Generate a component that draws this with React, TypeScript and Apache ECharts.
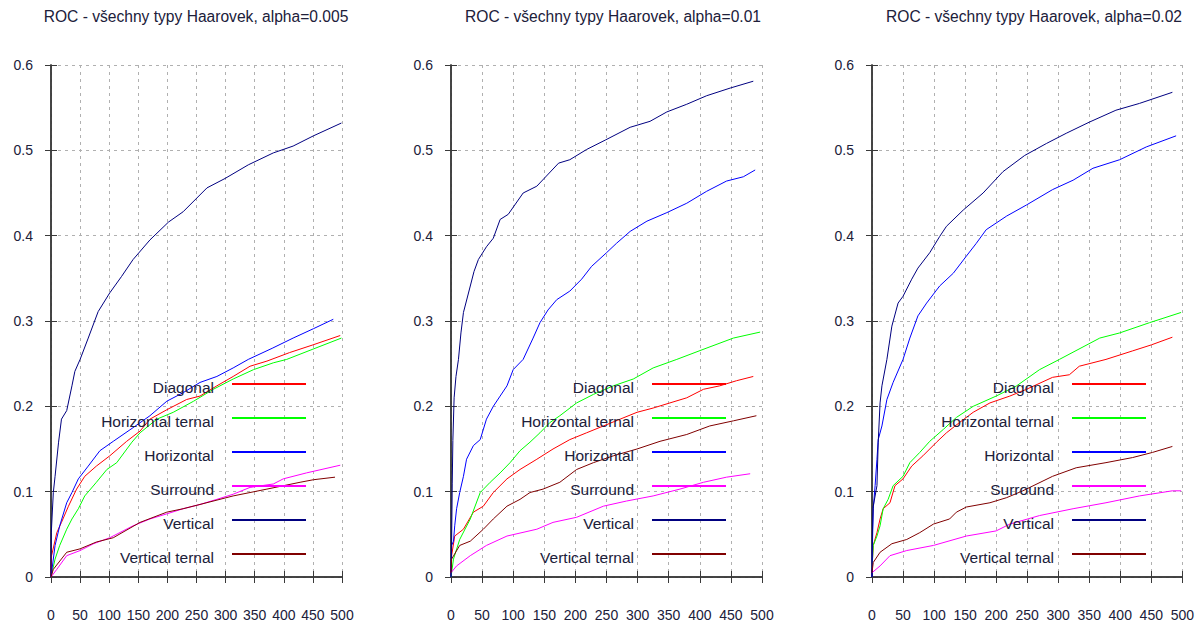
import React, { useEffect, useRef } from "react";
import * as echarts from "echarts";

const seriesNames = ["Diagonal", "Horizontal ternal", "Horizontal", "Surround", "Vertical", "Vertical ternal"];
const seriesColors = ["#ff0000", "#00ff00", "#0000ff", "#ff00ff", "#000080", "#800000"];
const panelTitles = [
  "ROC - všechny typy Haarovek, alpha=0.005",
  "ROC - všechny typy Haarovek, alpha=0.01",
  "ROC - všechny typy Haarovek, alpha=0.02",
];
const xMin = 0, xMax = 500, xStep = 50;
const yMin = 0, yMax = 0.6, yStep = 0.1;

// Panel 1 (alpha=0.005)
const p1Diagonal = [[0,0],[1,0.025],[10,0.052],[18,0.064],[30,0.083],[44,0.103],[58,0.118],[78,0.13],[101,0.142],[130,0.159],[153,0.171],[170,0.185],[199,0.196],[233,0.208],[256,0.212],[285,0.224],[313,0.235],[342,0.247],[371,0.253],[410,0.263],[450,0.272],[497,0.283]];
const p1HorizontalTernal = [[0,0],[7,0.021],[15,0.037],[27,0.056],[36,0.068],[47,0.08],[58,0.095],[78,0.111],[96,0.126],[113,0.134],[139,0.158],[153,0.169],[182,0.185],[210,0.193],[245,0.206],[279,0.22],[313,0.232],[348,0.243],[382,0.251],[405,0.255],[450,0.267],[499,0.28]];
const p1Horizontal = [[0,0],[7,0.037],[15,0.06],[27,0.087],[36,0.099],[47,0.115],[64,0.13],[84,0.148],[107,0.159],[141,0.175],[170,0.189],[199,0.206],[227,0.216],[256,0.228],[285,0.235],[313,0.245],[339,0.255],[380,0.268],[416,0.28],[451,0.291],[485,0.302]];
const p1Surround = [[0,0],[10,0.009],[27,0.025],[50,0.031],[73,0.039],[101,0.046],[141,0.06],[170,0.068],[199,0.074],[227,0.08],[256,0.085],[285,0.091],[313,0.097],[342,0.105],[382,0.109],[399,0.115],[439,0.122],[497,0.131]];
const p1Vertical = [[0,0],[0.5,0.052],[4,0.099],[7,0.118],[13,0.158],[18,0.185],[27,0.195],[36,0.224],[41,0.241],[50,0.255],[64,0.28],[81,0.311],[101,0.333],[121,0.352],[141,0.372],[170,0.395],[202,0.416],[227,0.428],[268,0.456],[299,0.467],[339,0.483],[382,0.497],[416,0.505],[451,0.517],[499,0.532]];
const p1VerticalTernal = [[0,0],[4,0.009],[27,0.029],[50,0.033],[78,0.041],[107,0.046],[153,0.064],[199,0.076],[227,0.08],[256,0.085],[313,0.095],[371,0.103],[428,0.111],[451,0.114],[488,0.117]];

// Panel 2 (alpha=0.01)
const p2Diagonal = [[0,0],[1,0.025],[6,0.048],[20,0.056],[36,0.076],[52,0.083],[68,0.099],[90,0.115],[111,0.126],[138,0.138],[164,0.15],[191,0.161],[218,0.169],[245,0.177],[272,0.185],[299,0.193],[325,0.198],[352,0.204],[379,0.21],[406,0.22],[432,0.224],[459,0.23],[486,0.235]];
const p2HorizontalTernal = [[0,0],[4,0.021],[14,0.044],[31,0.068],[47,0.099],[63,0.111],[79,0.122],[95,0.134],[111,0.148],[127,0.158],[143,0.169],[159,0.181],[175,0.189],[202,0.204],[229,0.214],[261,0.224],[293,0.232],[325,0.245],[363,0.255],[410,0.268],[454,0.28],[497,0.287]];
const p2Horizontal = [[0,0],[1,0.037],[4,0.042],[6,0.06],[9,0.08],[14,0.099],[20,0.118],[25,0.138],[36,0.154],[47,0.161],[57,0.185],[68,0.2],[79,0.212],[90,0.224],[100,0.243],[116,0.255],[132,0.28],[143,0.298],[156,0.313],[170,0.325],[191,0.335],[210,0.349],[226,0.364],[250,0.38],[266,0.391],[288,0.405],[315,0.417],[347,0.427],[379,0.438],[411,0.452],[443,0.464],[470,0.469],[489,0.477]];
const p2Surround = [[0,0.005],[9,0.013],[31,0.025],[57,0.037],[90,0.048],[138,0.056],[164,0.064],[202,0.07],[245,0.083],[282,0.089],[325,0.095],[368,0.103],[406,0.111],[443,0.117],[481,0.121]];
const p2Vertical = [[0,0],[1,0.04],[2,0.11],[3,0.16],[5,0.21],[8,0.235],[12,0.255],[16,0.286],[20,0.31],[31,0.341],[37,0.358],[44,0.372],[57,0.387],[68,0.397],[79,0.419],[92,0.425],[116,0.45],[138,0.458],[173,0.485],[191,0.489],[218,0.501],[248,0.512],[288,0.527],[320,0.534],[347,0.545],[379,0.554],[411,0.564],[449,0.573],[486,0.581]];
const p2VerticalTernal = [[0,0.005],[1,0.021],[14,0.037],[31,0.042],[52,0.056],[68,0.068],[90,0.083],[111,0.091],[127,0.099],[148,0.103],[175,0.111],[202,0.126],[229,0.134],[261,0.142],[299,0.15],[336,0.159],[379,0.167],[416,0.177],[454,0.183],[491,0.189]];

// Panel 3 (alpha=0.02)
const p3Diagonal = [[0,0.01],[2,0.037],[8,0.052],[13,0.068],[18,0.08],[29,0.087],[37,0.107],[50,0.115],[64,0.13],[82,0.142],[104,0.158],[120,0.169],[141,0.181],[163,0.193],[190,0.204],[222,0.212],[249,0.22],[291,0.234],[318,0.237],[334,0.247],[377,0.255],[420,0.265],[450,0.272],[484,0.281]];
const p3HorizontalTernal = [[0,0.01],[2,0.037],[8,0.048],[13,0.06],[18,0.08],[26,0.091],[34,0.107],[50,0.118],[61,0.134],[77,0.146],[93,0.159],[115,0.173],[136,0.187],[163,0.2],[200,0.212],[233,0.224],[270,0.243],[302,0.255],[367,0.28],[399,0.286],[447,0.298],[498,0.31]];
const p3Horizontal = [[0,0],[0.5,0.03],[2,0.08],[5,0.107],[8,0.138],[10,0.161],[16,0.177],[24,0.208],[34,0.228],[50,0.255],[61,0.28],[74,0.306],[88,0.321],[109,0.341],[131,0.356],[152,0.376],[168,0.391],[184,0.407],[217,0.423],[249,0.436],[291,0.454],[324,0.465],[356,0.479],[399,0.489],[442,0.504],[490,0.517]];
const p3Surround = [[0,0.005],[13,0.013],[29,0.025],[56,0.031],[99,0.037],[152,0.048],[200,0.054],[222,0.062],[270,0.072],[324,0.08],[377,0.087],[431,0.095],[484,0.101],[498,0.101]];
const p3Vertical = [[0,0],[0.5,0.048],[2,0.083],[8,0.107],[10,0.158],[13,0.204],[16,0.224],[24,0.255],[32,0.294],[42,0.321],[50,0.329],[64,0.349],[74,0.362],[93,0.38],[109,0.399],[120,0.411],[147,0.43],[179,0.45],[211,0.475],[246,0.494],[281,0.508],[313,0.52],[350,0.533],[393,0.547],[431,0.555],[484,0.568]];
const p3VerticalTernal = [[0,0.005],[2,0.017],[13,0.029],[32,0.039],[56,0.044],[77,0.052],[99,0.062],[125,0.068],[136,0.076],[152,0.082],[190,0.087],[217,0.093],[243,0.101],[291,0.118],[329,0.128],[377,0.134],[420,0.14],[452,0.146],[484,0.153]];

const panelData = [
  [p1Diagonal, p1HorizontalTernal, p1Horizontal, p1Surround, p1Vertical, p1VerticalTernal],
  [p2Diagonal, p2HorizontalTernal, p2Horizontal, p2Surround, p2Vertical, p2VerticalTernal],
  [p3Diagonal, p3HorizontalTernal, p3Horizontal, p3Surround, p3Vertical, p3VerticalTernal],
];

const FONT = "'Liberation Sans', Arial, sans-serif";
const TEXT = "#20203a";
const BORDER = "#3a3a3a";
const gridLefts = [51, 451, 872];
const gridWidths = [291, 311, 311];
const titleCenters = [196, 613, 1034];
const legendRights = [890, 470, 50];

export default function App() {
  const ref = useRef<HTMLDivElement>(null);
  useEffect(() => {
    if (!ref.current) return;
    const chart = echarts.init(ref.current, undefined, { renderer: "svg" });
    const grid: any[] = [];
    const xAxis: any[] = [];
    const yAxis: any[] = [];
    const title: any[] = [];
    const legend: any[] = [];
    const series: any[] = [];
    for (let p = 0; p < 3; p++) {
      grid.push({ left: gridLefts[p], top: 65, width: gridWidths[p], height: 513, containLabel: false });
      const axisLine = { show: true, lineStyle: { color: BORDER, width: 1.5 } };
      const axisTick = { show: true, inside: true, length: 6, lineStyle: { color: BORDER, width: 1 } };
      xAxis.push({
        type: "value", gridIndex: p, position: "bottom", min: xMin, max: xMax, interval: xStep,
        axisLine, axisTick,
        axisLabel: { margin: 31, fontSize: 14, color: TEXT, fontFamily: FONT },
        splitLine: { show: true, lineStyle: { color: "#b0b0b0", type: [3, 4], width: 1 } },
      });
      xAxis.push({
        type: "value", gridIndex: p, position: "top", min: xMin, max: xMax, interval: xStep,
        axisLine, axisTick, axisLabel: { show: false }, splitLine: { show: false },
      });
      yAxis.push({
        type: "value", gridIndex: p, position: "left", min: yMin, max: yMax, interval: yStep,
        axisLine, axisTick,
        axisLabel: { margin: 18, fontSize: 14, color: TEXT, fontFamily: FONT, padding: [8, 0, 0, 0] },
        splitLine: { show: true, lineStyle: { color: "#b0b0b0", type: [3, 4], width: 1 } },
      });
      yAxis.push({
        type: "value", gridIndex: p, position: "right", min: yMin, max: yMax, interval: yStep,
        axisLine, axisTick, axisLabel: { show: false }, splitLine: { show: false },
      });
      title.push({
        text: panelTitles[p], left: titleCenters[p], textAlign: "center", top: 8, padding: 0,
        textStyle: { fontSize: 15.6, fontWeight: "normal", color: TEXT, fontFamily: FONT },
      });
      legend.push({
        orient: "vertical", right: legendRights[p], top: 373, padding: 0,
        align: "right", itemWidth: 74, itemHeight: 14, itemGap: 12,
        selectedMode: false, data: seriesNames,
        itemStyle: { opacity: 0 },
        formatter: "{t|{name}}",
        textStyle: {
          fontSize: 15.5, color: TEXT, fontFamily: FONT,
          rich: { t: { width: 150, align: "right", fontSize: 15.5, lineHeight: 14, padding: [6, 13, 0, 0], color: TEXT, fontFamily: FONT } },
        },
      });
      seriesNames.forEach((name, i) => {
        series.push({
          type: "line", name, xAxisIndex: p * 2, yAxisIndex: p * 2,
          data: panelData[p][i], symbol: "none", showSymbol: false,
          lineStyle: { color: seriesColors[i], width: 1 }, itemStyle: { color: seriesColors[i] },
          z: 3,
        });
      });
    }
    chart.setOption({
      animation: false,
      backgroundColor: "#ffffff",
      textStyle: { fontFamily: FONT },
      title, legend, grid, xAxis, yAxis, series,
    });
    return () => chart.dispose();
  }, []);
  return (
    <div
      ref={ref}
      style={{ position: "fixed", left: 0, top: 0, width: 1197, height: 622, background: "#fff" }}
    />
  );
}
